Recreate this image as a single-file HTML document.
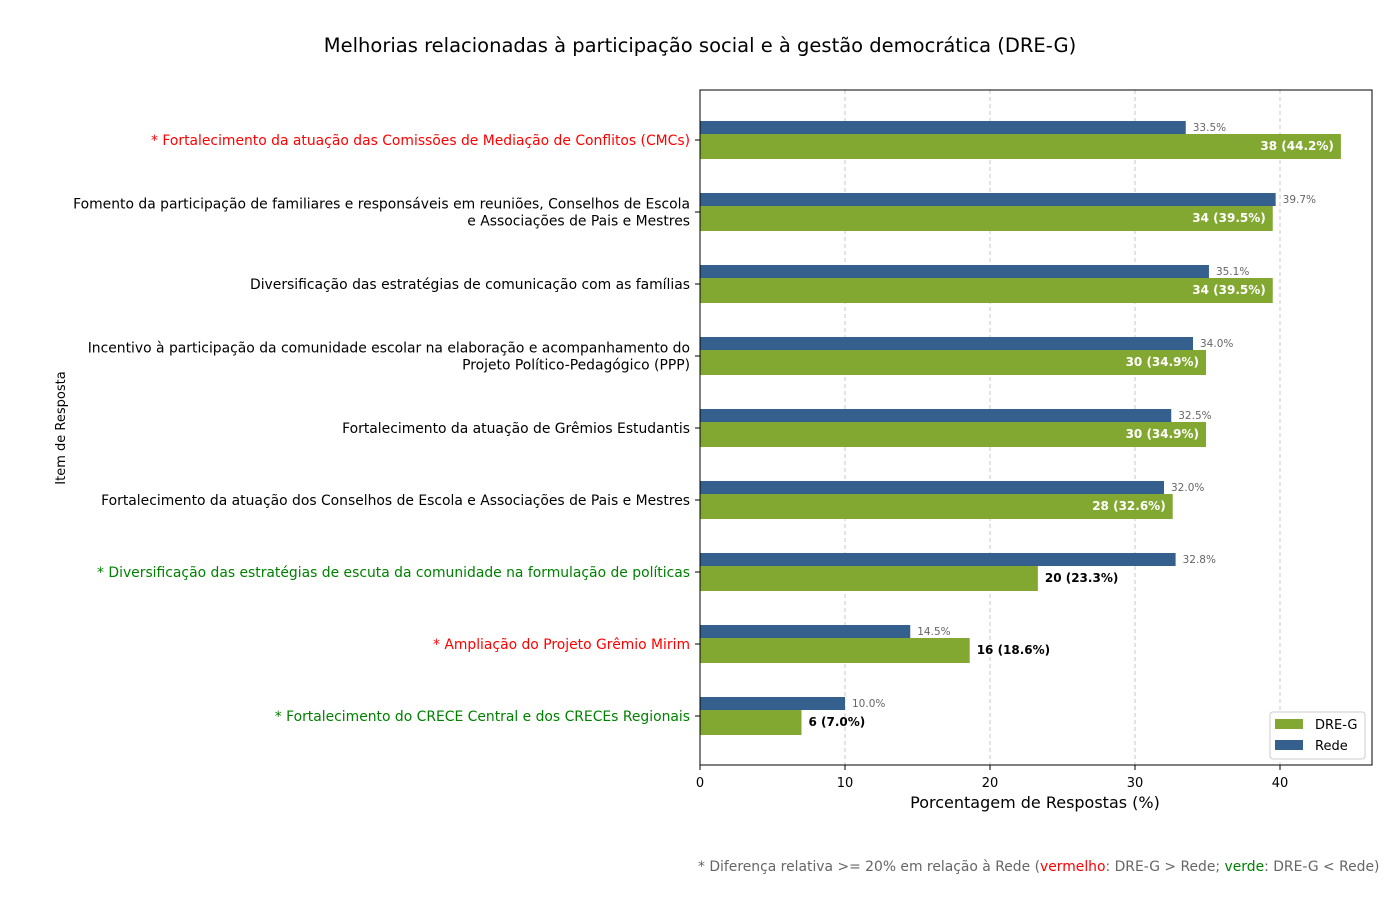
<!DOCTYPE html>
<html><head><meta charset="utf-8"><style>
body{margin:0;background:#fff;font-family:"Liberation Sans","DejaVu Sans",sans-serif;}
</style></head><body>
<svg id="chart" width="1400" height="900" xmlns="http://www.w3.org/2000/svg" font-family="DejaVu Sans, Liberation Sans, sans-serif">
<text x="700" y="52" text-anchor="middle" font-size="19.5">Melhorias relacionadas à participação social e à gestão democrática (DRE-G)</text>
<g id="grid"></g><g id="bars"></g><g id="ylabels"></g><g id="xticks"></g>
<rect x="700" y="90" width="672" height="675" fill="none" stroke="#000" stroke-width="1"/>
<text x="1035" y="808" text-anchor="middle" font-size="16">Porcentagem de Respostas (%)</text>
<text transform="translate(65,428) rotate(-90)" text-anchor="middle" font-size="13">Item de Resposta</text>
<g>
<rect x="1270" y="712" width="95" height="47" rx="3" fill="#fff" stroke="#ccc"/>
<rect x="1275" y="719" width="28" height="10" fill="#82a832"/>
<text x="1315" y="729" font-size="13">DRE-G</text>
<rect x="1275" y="740" width="28" height="10" fill="#355f8c"/>
<text x="1315" y="750" font-size="13">Rede</text>
</g>
<text x="698" y="871" font-size="13.9" fill="#666">* Diferença relativa &gt;= 20% em relação à Rede (<tspan fill="red">vermelho</tspan>: DRE-G &gt; Rede; <tspan fill="green">verde</tspan>: DRE-G &lt; Rede)</text>
</svg>
<script>
const categories=[["* Fortalecimento da atuação das Comissões de Mediação de Conflitos (CMCs)"],["Fomento da participação de familiares e responsáveis em reuniões, Conselhos de Escola","e Associações de Pais e Mestres"],["Diversificação das estratégias de comunicação com as famílias"],["Incentivo à participação da comunidade escolar na elaboração e acompanhamento do","Projeto Político-Pedagógico (PPP)"],["Fortalecimento da atuação de Grêmios Estudantis"],["Fortalecimento da atuação dos Conselhos de Escola e Associações de Pais e Mestres"],["* Diversificação das estratégias de escuta da comunidade na formulação de políticas"],["* Ampliação do Projeto Grêmio Mirim"],["* Fortalecimento do CRECE Central e dos CRECEs Regionais"]];
const labelColors=["red","black","black","black","black","black","green","red","green"];
const dregCounts=[38,34,34,30,30,28,20,16,6];
const dregPct=[44.2,39.5,39.5,34.9,34.9,32.6,23.3,18.6,7.0];
const redePct=[33.5,39.7,35.1,34.0,32.5,32.0,32.8,14.5,10.0];
const xTicks=[0,10,20,30,40];
const NS="http://www.w3.org/2000/svg";
const x=v=>700+v*14.5;
const rowY=i=>140+i*72;
function mk(tag,attrs,parent,txt){const e=document.createElementNS(NS,tag);for(const k in attrs)e.setAttribute(k,attrs[k]);if(txt!==undefined)e.textContent=txt;document.getElementById(parent).appendChild(e);return e;}
xTicks.forEach(t=>{
 if(t>0){const g=mk('line',{x1:x(t),x2:x(t),y1:90,y2:765,stroke:'#bbb','stroke-dasharray':'4,3','stroke-width':0.8},'grid');
 
 }
 const tk=mk('line',{x1:x(t),x2:x(t),y1:765,y2:770,stroke:'#000'},'xticks');
 
 
 const tl=mk('text',{x:x(t),y:787,'text-anchor':'middle','font-size':13},'xticks',String(t));
 
 
});
categories.forEach((lines,i)=>{
 const c=rowY(i);
 const rb=mk('rect',{x:700,y:c-19,width:x(redePct[i])-700,height:13,fill:'#355f8c'},'bars');
 
 
 const rl=mk('text',{x:x(redePct[i])+7,y:c-9,'font-size':10.5,fill:'#666'},'bars',redePct[i].toFixed(1)+'%');
 
 
 const gb=mk('rect',{x:700,y:c-6,width:x(dregPct[i])-700,height:25,fill:'#82a832'},'bars');
 
 
 const txt=dregCounts[i]+' ('+dregPct[i].toFixed(1)+'%)';
 const inside=dregPct[i]>30;
 const gl=mk('text',{x:inside?x(dregPct[i])-7:x(dregPct[i])+7,y:c+10,'font-size':12,'font-weight':'bold',fill:inside?'#fff':'#000','text-anchor':inside?'end':'start'},'bars',txt);
 
 
 const tk=mk('line',{x1:695,x2:700,y1:c,y2:c,stroke:'#000'},'ylabels');
 
 
 lines.forEach((ln,j)=>{
  const yy=c+5+(j-(lines.length-1)/2)*17;
  const t=mk('text',{x:690,y:yy,'text-anchor':'end','font-size':13.9,fill:labelColors[i]},'ylabels',ln);
  
  
 });
});
</script>
</body></html>
